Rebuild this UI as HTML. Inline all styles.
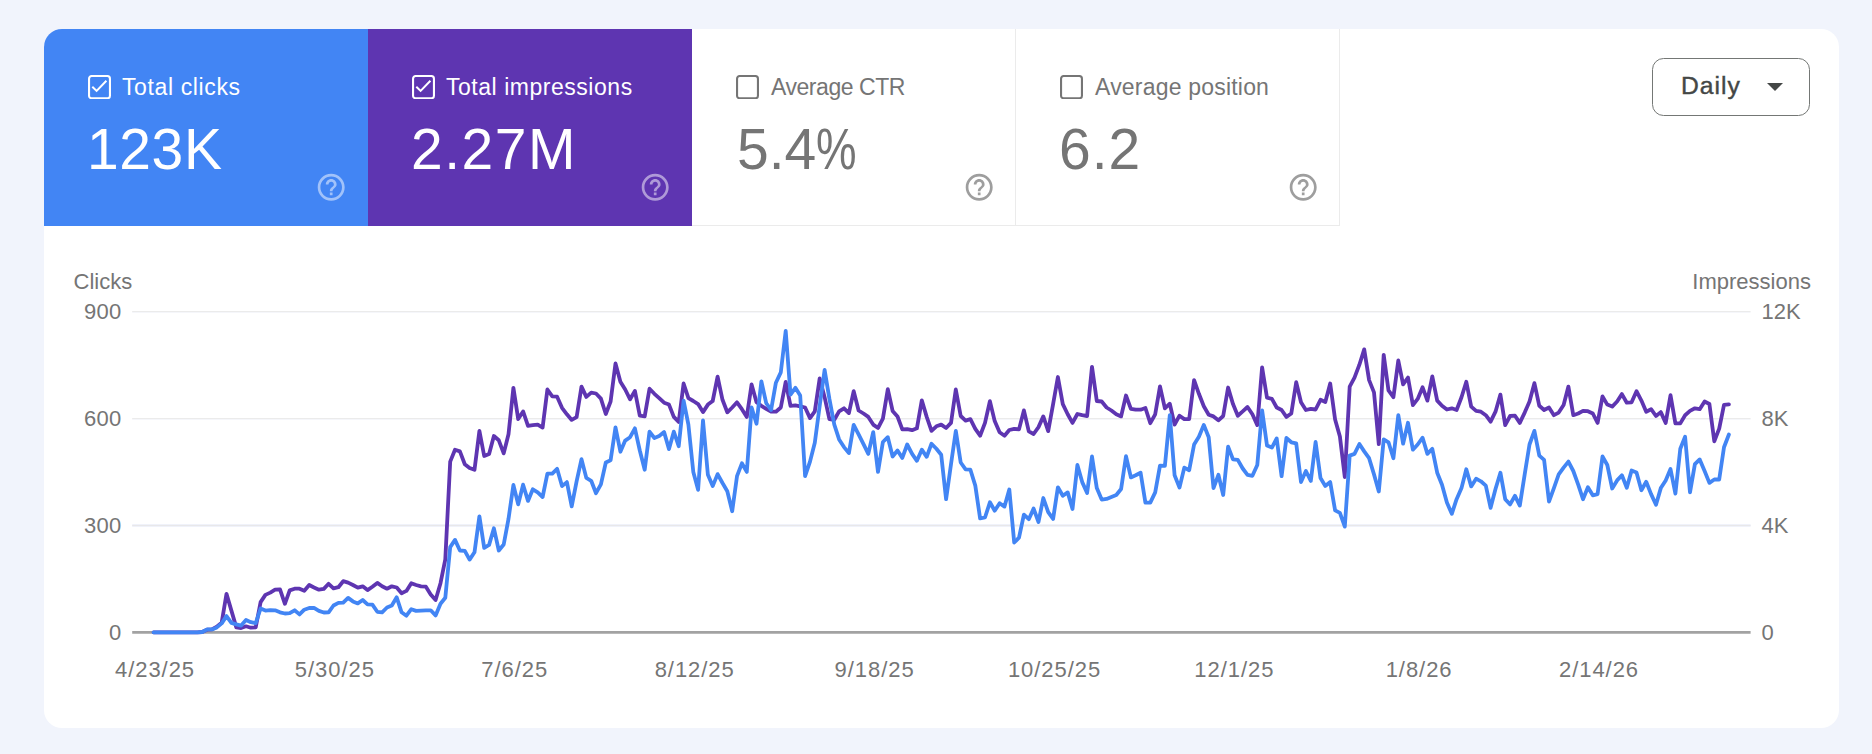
<!DOCTYPE html>
<html lang="en">
<head>
<meta charset="utf-8">
<title>Performance</title>
<style>
*{box-sizing:border-box;margin:0;padding:0}
html,body{width:1872px;height:754px;overflow:hidden;background:#f1f4fc;font-family:"Liberation Sans",sans-serif}
#card{position:absolute;left:44px;top:29px;width:1795px;height:699px;background:#fff;border-radius:18px;overflow:hidden}
.m{position:absolute;top:0;height:197px;width:324px}
.m .cb{position:absolute;left:44px;top:45.8px;width:23px;height:24.3px}
.m .lb{position:absolute;left:78px;top:43.8px;font-size:23px;line-height:28px;white-space:nowrap;color:#fff}
.m .val{position:absolute;left:43px;top:86px;font-size:57px;line-height:68px;white-space:nowrap;color:#fff}
.m svg.h{position:absolute;left:270.9px;top:142px;width:32.4px;height:32.4px}
#m1{left:0;background:#4285f4}
#m2{left:324px;background:#5e35b1}
#m3{left:648px;background:#fff;border-right:1px solid #ebebeb;border-bottom:1px solid #ebebeb}
#m4{left:972px;background:#fff;border-right:1px solid #ebebeb;border-bottom:1px solid #ebebeb}
#m3 .lb,#m4 .lb,#m3 .val,#m4 .val{color:#757575}
#dd{position:absolute;left:1608px;top:29px;width:158px;height:57.8px;border:1.3px solid #747775;border-radius:11.5px}
#dd span{position:absolute;left:28px;top:12.2px;font-size:24.7px;line-height:30px;color:#444746;letter-spacing:1px;-webkit-text-stroke:.4px #444746}
#dd i{position:absolute;left:114px;top:24.3px;width:0;height:0;border-left:8.2px solid transparent;border-right:8.2px solid transparent;border-top:8.6px solid #444746}
#chart{position:absolute;left:0;top:0;width:1872px;height:754px}
</style>
</head>
<body>
<div id="card">
  <div class="m" id="m1"><svg class="cb" viewBox="0 0 23 24.3"><rect x="1.05" y="1.05" width="20.9" height="22.2" rx="2.6" fill="none" stroke="#fff" stroke-width="2.1"/><path d="M4.3 11.7 L8.6 15.9 L18.4 5.7" fill="none" stroke="#fff" stroke-width="2"/></svg><div class="lb" style="letter-spacing:.62px">Total clicks</div><div class="val" style="letter-spacing:.6px">123K</div><svg class="h" viewBox="0 0 24 24"><path fill="rgba(255,255,255,0.5)" d="M11 18h2v-2h-2v2zm1-16C6.48 2 2 6.48 2 12s4.480 10 10 10 10-4.480 10-10S17.520 2 12 2zm0 18c-4.410 0-8-3.590-8-8s3.590-8 8-8 8 3.590 8 8-3.590 8-8 8zm0-14c-2.210 0-4 1.790-4 4h2c0-1.100.9-2 2-2s2 .9 2 2c0 2-3 1.750-3 5h2c0-2.250 3-2.500 3-5 0-2.210-1.790-4-4-4z"/></svg></div>
  <div class="m" id="m2"><svg class="cb" viewBox="0 0 23 24.3"><rect x="1.05" y="1.05" width="20.9" height="22.2" rx="2.6" fill="none" stroke="#fff" stroke-width="2.1"/><path d="M4.3 11.7 L8.6 15.9 L18.4 5.7" fill="none" stroke="#fff" stroke-width="2"/></svg><div class="lb" style="letter-spacing:.53px">Total impressions</div><div class="val" style="letter-spacing:1.5px">2.27M</div><svg class="h" viewBox="0 0 24 24"><path fill="rgba(255,255,255,0.5)" d="M11 18h2v-2h-2v2zm1-16C6.48 2 2 6.48 2 12s4.480 10 10 10 10-4.480 10-10S17.520 2 12 2zm0 18c-4.410 0-8-3.590-8-8s3.590-8 8-8 8 3.590 8 8-3.590 8-8 8zm0-14c-2.210 0-4 1.790-4 4h2c0-1.100.9-2 2-2s2 .9 2 2c0 2-3 1.750-3 5h2c0-2.250 3-2.500 3-5 0-2.210-1.790-4-4-4z"/></svg></div>
  <div class="m" id="m3"><svg class="cb" viewBox="0 0 23 24.3"><rect x="1.05" y="1.05" width="20.9" height="22.2" rx="2.6" fill="none" stroke="#757575" stroke-width="2.1"/></svg><div class="lb" style="letter-spacing:-.45px;margin-left:1px">Average CTR</div><div class="val" style="left:45px">5.4<span style="display:inline-block;transform:scaleX(.8);transform-origin:0 50%">%</span></div><svg class="h" viewBox="0 0 24 24"><path fill="#9e9e9e" d="M11 18h2v-2h-2v2zm1-16C6.48 2 2 6.48 2 12s4.480 10 10 10 10-4.480 10-10S17.520 2 12 2zm0 18c-4.410 0-8-3.590-8-8s3.590-8 8-8 8 3.590 8 8-3.590 8-8 8zm0-14c-2.210 0-4 1.790-4 4h2c0-1.100.9-2 2-2s2 .9 2 2c0 2-3 1.750-3 5h2c0-2.250 3-2.500 3-5 0-2.210-1.790-4-4-4z"/></svg></div>
  <div class="m" id="m4"><svg class="cb" viewBox="0 0 23 24.3"><rect x="1.05" y="1.05" width="20.9" height="22.2" rx="2.6" fill="none" stroke="#757575" stroke-width="2.1"/></svg><div class="lb" style="letter-spacing:.2px;margin-left:1px">Average position</div><div class="val" style="letter-spacing:1px">6.2</div><svg class="h" viewBox="0 0 24 24"><path fill="#9e9e9e" d="M11 18h2v-2h-2v2zm1-16C6.48 2 2 6.48 2 12s4.480 10 10 10 10-4.480 10-10S17.520 2 12 2zm0 18c-4.410 0-8-3.590-8-8s3.590-8 8-8 8 3.590 8 8-3.590 8-8 8zm0-14c-2.210 0-4 1.790-4 4h2c0-1.100.9-2 2-2s2 .9 2 2c0 2-3 1.750-3 5h2c0-2.250 3-2.500 3-5 0-2.210-1.790-4-4-4z"/></svg></div>
  <div id="dd"><span>Daily</span><i></i></div>
</div>
<svg id="chart" viewBox="0 0 1872 754">
<line x1="132.2" y1="311.5" x2="1750.6" y2="311.5" stroke="#ebebeb" stroke-width="1"/>
<line x1="132.2" y1="312.5" x2="1750.6" y2="312.5" stroke="#f5f6fa" stroke-width="1"/>
<line x1="132.2" y1="418.5" x2="1750.6" y2="418.5" stroke="#ebebeb" stroke-width="1"/>
<line x1="132.2" y1="419.5" x2="1750.6" y2="419.5" stroke="#f5f6fa" stroke-width="1"/>
<line x1="132.2" y1="525.5" x2="1750.6" y2="525.5" stroke="#f0f2fa" stroke-width="3"/>
<line x1="132.2" y1="525.5" x2="1750.6" y2="525.5" stroke="#e8e8ea" stroke-width="1"/>
<line x1="132.2" y1="632.4" x2="1750.6" y2="632.4" stroke="#a2a2a2" stroke-width="2.8"/>
<polyline fill="none" stroke="#5e35b1" stroke-width="3.8" stroke-linejoin="round" stroke-linecap="round" points="153.6,632.3 158.5,632.3 163.3,632.3 168.2,632.3 173.0,632.3 177.9,632.3 182.8,632.3 187.6,632.3 192.5,632.3 197.4,632.3 202.2,632.0 207.1,629.7 211.9,629.4 216.8,626.8 221.7,622.6 226.5,593.8 231.4,610.6 236.3,627.4 241.1,628.0 246.0,626.3 250.8,627.7 255.7,627.4 260.6,602.1 265.4,594.9 270.3,592.6 275.1,589.7 280.0,589.4 284.9,603.8 289.7,590.4 294.6,588.7 299.5,588.7 304.3,590.8 309.2,585.0 314.0,587.5 318.9,589.7 323.8,588.9 328.6,583.8 333.5,588.4 338.4,587.2 343.2,581.2 348.1,582.6 352.9,585.0 357.8,587.7 362.7,586.3 367.5,590.1 372.4,586.7 377.3,582.9 382.1,586.3 387.0,588.7 391.8,586.3 396.7,587.5 401.6,593.2 406.4,590.9 411.3,583.2 416.1,585.0 421.0,586.3 425.9,586.7 430.7,594.4 435.6,600.0 440.5,583.2 445.3,559.3 450.2,461.6 455.0,449.7 459.9,451.4 464.8,464.2 469.6,467.9 474.5,469.8 479.4,430.9 484.2,456.0 489.1,453.9 493.9,436.0 498.8,440.3 503.7,453.4 508.5,434.3 513.4,387.8 518.2,419.1 523.1,411.4 528.0,425.8 532.8,425.1 537.7,424.6 542.6,427.6 547.4,389.5 552.3,396.4 557.1,396.7 562.0,407.8 566.9,414.3 571.7,419.9 576.6,417.2 581.5,386.6 586.3,396.9 591.2,392.6 596.0,393.5 600.9,398.6 605.8,414.0 610.6,401.5 615.5,363.5 620.4,381.8 625.2,389.5 630.1,399.3 634.9,390.9 639.8,415.7 644.7,416.4 649.5,388.7 654.4,393.8 659.2,398.1 664.1,402.7 669.0,404.6 673.8,416.9 678.7,422.0 683.6,383.5 688.4,398.1 693.3,401.0 698.1,404.1 703.0,412.1 707.9,404.6 712.7,401.0 717.6,376.7 722.5,399.8 727.3,412.3 732.2,407.5 737.0,402.3 741.9,409.2 746.8,416.9 751.6,384.4 756.5,402.3 761.4,405.8 766.2,408.8 771.1,411.7 775.9,411.7 780.8,407.5 785.7,381.8 790.5,405.8 795.4,405.4 800.2,406.3 805.1,407.5 810.0,418.1 814.8,411.4 819.7,378.4 824.6,397.2 829.4,419.1 834.3,419.8 839.1,411.4 844.0,408.3 848.9,413.1 853.7,391.2 858.6,410.5 863.5,413.5 868.3,416.9 873.2,424.6 878.0,428.0 882.9,418.6 887.8,389.2 892.6,410.9 897.5,416.5 902.3,429.4 907.2,429.2 912.1,430.2 916.9,428.3 921.8,400.3 926.7,416.9 931.5,430.9 936.4,426.3 941.2,424.6 946.1,428.0 951.0,422.9 955.8,389.5 960.7,416.0 965.6,420.6 970.4,419.1 975.3,428.8 980.1,435.7 985.0,422.9 989.9,401.1 994.7,421.1 999.6,432.3 1004.5,435.7 1009.3,430.0 1014.2,428.8 1019.0,429.4 1023.9,410.4 1028.8,431.4 1033.6,434.0 1038.5,427.1 1043.3,416.4 1048.2,431.1 1053.1,404.1 1057.9,377.0 1062.8,404.1 1067.7,414.3 1072.5,422.9 1077.4,414.0 1082.2,415.2 1087.1,416.0 1092.0,366.8 1096.8,401.0 1101.7,401.5 1106.6,407.5 1111.4,410.5 1116.3,414.3 1121.1,416.4 1126.0,395.5 1130.9,408.8 1135.7,409.7 1140.6,409.7 1145.4,408.0 1150.3,423.2 1155.2,414.3 1160.0,386.4 1164.9,408.3 1169.8,403.7 1174.6,424.6 1179.5,415.7 1184.3,419.1 1189.2,419.1 1194.1,380.1 1198.9,393.8 1203.8,406.3 1208.7,414.8 1213.5,416.4 1218.4,420.3 1223.2,416.0 1228.1,387.5 1233.0,404.1 1237.8,415.7 1242.7,411.4 1247.5,407.0 1252.4,414.3 1257.3,425.1 1262.1,367.3 1267.0,397.7 1271.9,398.9 1276.7,407.5 1281.6,410.0 1286.4,416.9 1291.3,413.5 1296.2,382.2 1301.0,402.3 1305.9,410.0 1310.8,408.8 1315.6,409.5 1320.5,399.8 1325.3,402.0 1330.2,383.5 1335.1,419.4 1339.9,436.5 1344.8,477.0 1349.7,386.6 1354.5,377.6 1359.4,364.7 1364.2,349.4 1369.1,380.1 1374.0,392.4 1378.8,444.2 1383.7,354.8 1388.5,390.4 1393.4,397.2 1398.3,360.5 1403.1,384.4 1408.0,377.6 1412.9,405.2 1417.7,398.9 1422.6,387.3 1427.4,400.6 1432.3,376.4 1437.2,400.6 1442.0,405.8 1446.9,409.5 1451.8,408.3 1456.6,410.0 1461.5,397.2 1466.3,381.8 1471.2,406.6 1476.1,410.9 1480.9,411.7 1485.8,415.2 1490.6,421.7 1495.5,411.7 1500.4,394.6 1505.2,425.1 1510.1,416.0 1515.0,415.7 1519.8,422.9 1524.7,412.6 1529.5,401.5 1534.4,383.2 1539.3,405.8 1544.1,410.0 1549.0,407.5 1553.9,415.2 1558.7,412.6 1563.6,404.9 1568.4,386.6 1573.3,415.2 1578.2,413.5 1583.0,410.9 1587.9,411.2 1592.8,413.5 1597.6,422.9 1602.5,396.4 1607.3,404.6 1612.2,406.6 1617.1,401.5 1621.9,394.1 1626.8,402.7 1631.6,402.3 1636.5,391.2 1641.4,400.6 1646.2,411.7 1651.1,409.2 1656.0,416.0 1660.8,412.1 1665.7,422.9 1670.5,395.2 1675.4,423.4 1680.3,423.4 1685.1,415.2 1690.0,410.9 1694.9,408.3 1699.7,409.2 1704.6,401.5 1709.4,404.0 1714.3,441.3 1719.2,428.6 1724.0,404.8 1728.9,404.3"/>
<polyline fill="none" stroke="#4285f4" stroke-width="3.8" stroke-linejoin="round" stroke-linecap="round" points="153.6,632.3 158.5,632.3 163.3,632.3 168.2,632.3 173.0,632.3 177.9,632.3 182.8,632.3 187.6,632.3 192.5,632.3 197.4,632.3 202.2,632.0 207.1,629.4 211.9,629.4 216.8,627.4 221.7,623.4 226.5,616.1 231.4,622.9 236.3,624.3 241.1,625.6 246.0,620.0 250.8,622.2 255.7,623.1 260.6,608.5 265.4,610.6 270.3,610.1 275.1,610.3 280.0,612.3 284.9,613.5 289.7,613.2 294.6,610.3 299.5,614.4 304.3,609.7 309.2,608.0 314.0,607.9 318.9,610.9 323.8,612.5 328.6,612.3 333.5,605.5 338.4,602.9 343.2,602.7 348.1,597.9 352.9,601.4 357.8,603.4 362.7,600.0 367.5,604.3 372.4,604.6 377.3,611.8 382.1,612.3 387.0,607.5 391.8,605.5 396.7,597.3 401.6,612.3 406.4,615.7 411.3,609.2 416.1,610.9 421.0,610.6 425.9,610.3 430.7,610.3 435.6,615.4 440.5,603.8 445.3,597.8 450.2,547.1 455.0,539.9 459.9,550.5 464.8,550.9 469.6,559.6 474.5,552.2 479.4,516.3 484.2,547.9 489.1,544.9 493.9,528.3 498.8,550.5 503.7,544.5 508.5,518.9 513.4,485.0 518.2,504.4 523.1,484.7 528.0,500.9 532.8,489.3 537.7,492.4 542.6,497.0 547.4,473.6 552.3,473.6 557.1,468.8 562.0,486.1 566.9,482.1 571.7,506.4 576.6,481.3 581.5,459.1 586.3,477.9 591.2,480.8 596.0,493.2 600.9,484.4 605.8,462.5 610.6,460.3 615.5,427.4 620.4,451.7 625.2,440.6 630.1,437.2 634.9,428.3 639.8,450.5 644.7,469.7 649.5,431.7 654.4,438.0 659.2,436.0 664.1,432.1 669.0,449.1 673.8,431.7 678.7,446.2 683.6,400.6 688.4,424.6 693.3,471.9 698.1,489.8 703.0,420.3 707.9,474.8 712.7,486.1 717.6,474.1 722.5,483.0 727.3,491.2 732.2,511.2 737.0,476.2 741.9,463.3 746.8,471.9 751.6,407.5 756.5,423.7 761.4,381.3 766.2,403.2 771.1,410.0 775.9,382.7 780.8,372.4 785.7,330.9 790.5,394.6 795.4,387.8 800.2,395.5 805.1,476.2 810.0,461.6 814.8,442.8 819.7,405.8 824.6,369.9 829.4,398.9 834.3,424.6 839.1,439.4 844.0,447.1 848.9,453.1 853.7,424.9 858.6,434.3 863.5,444.2 868.3,453.9 873.2,432.1 878.0,471.9 882.9,442.0 887.8,437.2 892.6,456.5 897.5,450.5 902.3,457.9 907.2,444.5 912.1,453.9 916.9,460.8 921.8,449.7 926.7,456.8 931.5,443.7 936.4,448.8 941.2,454.8 946.1,499.2 951.0,464.2 955.8,430.9 960.7,462.5 965.6,469.3 970.4,469.7 975.3,485.6 980.1,518.4 985.0,517.5 989.9,502.3 994.7,510.7 999.6,503.2 1004.5,506.6 1009.3,489.5 1014.2,542.5 1019.0,537.7 1023.9,514.6 1028.8,519.2 1033.6,508.6 1038.5,522.0 1043.3,498.0 1048.2,512.1 1053.1,518.9 1057.9,487.3 1062.8,495.8 1067.7,492.4 1072.5,509.0 1077.4,465.0 1082.2,482.1 1087.1,492.9 1092.0,456.5 1096.8,488.1 1101.7,499.6 1106.6,498.9 1111.4,497.0 1116.3,495.0 1121.1,489.0 1126.0,456.2 1130.9,477.4 1135.7,475.3 1140.6,472.7 1145.4,502.6 1150.3,502.6 1155.2,492.4 1160.0,465.6 1164.9,465.9 1169.8,415.1 1174.6,475.3 1179.5,487.6 1184.3,467.6 1189.2,470.2 1194.1,444.5 1198.9,436.8 1203.8,424.9 1208.7,437.2 1213.5,488.1 1218.4,474.8 1223.2,495.0 1228.1,446.6 1233.0,459.4 1237.8,459.9 1242.7,468.5 1247.5,474.8 1252.4,475.8 1257.3,465.0 1262.1,410.3 1267.0,445.4 1271.9,447.6 1276.7,438.5 1281.6,476.2 1286.4,438.0 1291.3,442.3 1296.2,443.3 1301.0,482.1 1305.9,471.0 1310.8,480.9 1315.6,442.0 1320.5,477.9 1325.3,485.9 1330.2,482.1 1335.1,510.3 1339.9,512.9 1344.8,526.6 1349.7,455.6 1354.5,453.9 1359.4,444.0 1364.2,451.4 1369.1,458.2 1374.0,474.4 1378.8,491.5 1383.7,439.4 1388.5,442.3 1393.4,458.2 1398.3,415.1 1403.1,443.7 1408.0,422.8 1412.9,449.7 1417.7,444.5 1422.6,437.7 1427.4,453.9 1432.3,448.8 1437.2,472.7 1442.0,484.7 1446.9,502.6 1451.8,513.8 1456.6,499.2 1461.5,488.1 1466.3,469.3 1471.2,486.4 1476.1,478.7 1480.9,481.3 1485.8,485.6 1490.6,507.8 1495.5,489.0 1500.4,472.7 1505.2,499.2 1510.1,504.4 1515.0,495.8 1519.8,505.6 1524.7,474.4 1529.5,444.5 1534.4,430.9 1539.3,455.6 1544.1,459.9 1549.0,501.5 1553.9,488.1 1558.7,474.4 1563.6,467.6 1568.4,461.6 1573.3,471.0 1578.2,484.7 1583.0,499.2 1587.9,487.3 1592.8,495.3 1597.6,494.1 1602.5,456.5 1607.3,465.0 1612.2,488.5 1617.1,480.4 1621.9,475.3 1626.8,487.8 1631.6,470.5 1636.5,472.4 1641.4,490.2 1646.2,481.8 1651.1,494.1 1656.0,504.7 1660.8,488.1 1665.7,480.4 1670.5,469.0 1675.4,493.6 1680.3,448.8 1685.1,436.8 1690.0,492.4 1694.9,464.2 1699.7,459.4 1704.6,471.0 1709.4,482.9 1714.3,479.5 1719.2,479.5 1724.0,447.2 1728.9,434.5"/>
<g font-family="Liberation Sans, sans-serif" font-size="22" fill="#757575">
<text x="73.5" y="289.3" text-anchor="start" letter-spacing="0">Clicks</text>
<text x="1692.3" y="289.3" text-anchor="start" letter-spacing="0">Impressions</text>
<text x="121.4" y="319.4" text-anchor="end" letter-spacing="0.2">900</text>
<text x="1761.5" y="319.4" text-anchor="start">12K</text>
<text x="121.4" y="426.1" text-anchor="end" letter-spacing="0.2">600</text>
<text x="1761.5" y="426.1" text-anchor="start">8K</text>
<text x="121.4" y="532.7" text-anchor="end" letter-spacing="0.2">300</text>
<text x="1761.5" y="532.7" text-anchor="start">4K</text>
<text x="121.4" y="639.6" text-anchor="end" letter-spacing="0.2">0</text>
<text x="1761.5" y="639.6" text-anchor="start">0</text>
<text x="155.0" y="676.7" text-anchor="middle" letter-spacing="0.95">4/23/25</text>
<text x="334.9" y="676.7" text-anchor="middle" letter-spacing="0.95">5/30/25</text>
<text x="514.8" y="676.7" text-anchor="middle" letter-spacing="0.95">7/6/25</text>
<text x="694.7" y="676.7" text-anchor="middle" letter-spacing="0.95">8/12/25</text>
<text x="874.6" y="676.7" text-anchor="middle" letter-spacing="0.95">9/18/25</text>
<text x="1054.5" y="676.7" text-anchor="middle" letter-spacing="0.95">10/25/25</text>
<text x="1234.4" y="676.7" text-anchor="middle" letter-spacing="0.95">12/1/25</text>
<text x="1419.1" y="676.7" text-anchor="middle" letter-spacing="0.95">1/8/26</text>
<text x="1599.0" y="676.7" text-anchor="middle" letter-spacing="0.95">2/14/26</text>
</g>
</svg>
</body>
</html>
